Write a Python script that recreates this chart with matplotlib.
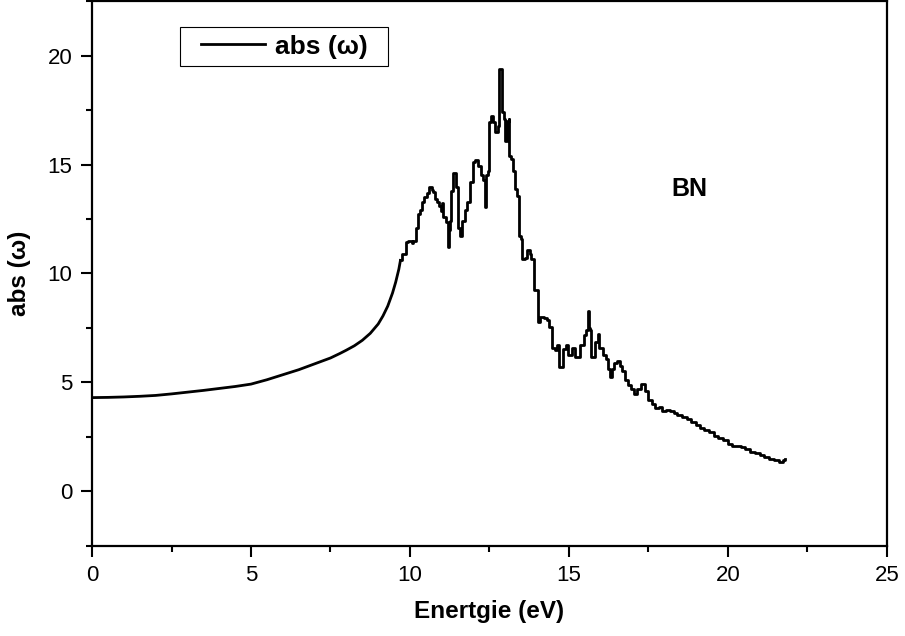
import numpy as np
import matplotlib.pyplot as plt
from matplotlib.ticker import MultipleLocator
from matplotlib.patches import Rectangle

plt.rcParams['font.family'] = ['Liberation Sans', 'DejaVu Sans']

# smooth low-energy part
e_smooth = [0.0, 0.5, 1.0, 1.5, 2.0, 2.5, 3.0, 3.5, 4.0, 4.5, 5.0, 5.5, 6.0, 6.5,
            7.0, 7.5, 7.8, 8.0, 8.25, 8.5, 8.75, 9.0, 9.15, 9.3, 9.45, 9.55, 9.65, 9.7]
a_smooth = [4.3, 4.31, 4.33, 4.36, 4.4, 4.47, 4.55, 4.63, 4.72, 4.81, 4.92, 5.12,
            5.35, 5.58, 5.85, 6.12, 6.33, 6.48, 6.68, 6.93, 7.25, 7.68, 8.05, 8.5,
            9.1, 9.6, 10.2, 10.6]

# noisy part (step values)
e_steps = [9.70, 9.74, 9.88, 9.94, 10.05, 10.10, 10.18, 10.25, 10.30, 10.38, 10.45,
           10.55, 10.60, 10.68, 10.72, 10.80, 10.85, 10.92, 10.96, 11.00, 11.04,
           11.12, 11.18, 11.22, 11.26, 11.30, 11.36, 11.44, 11.50, 11.57, 11.64,
           11.74, 11.80, 11.88, 11.97, 12.06, 12.14, 12.22, 12.30, 12.35, 12.40,
           12.44, 12.48, 12.55, 12.62, 12.68, 12.76, 12.80, 12.90, 12.96, 13.00,
           13.04, 13.10, 13.12, 13.18, 13.24, 13.30, 13.38, 13.44, 13.50, 13.53,
           13.62, 13.68, 13.76, 13.82, 13.90, 14.02, 14.10, 14.20, 14.30, 14.36,
           14.48, 14.56, 14.62, 14.70, 14.80, 14.90, 14.98, 15.10, 15.20, 15.35,
           15.48, 15.54, 15.60, 15.64, 15.67, 15.70, 15.82, 15.90, 15.96, 16.08,
           16.16, 16.22, 16.30, 16.36, 16.43, 16.52, 16.62, 16.68, 16.76, 16.85,
           16.95, 17.05, 17.15, 17.28, 17.40, 17.50, 17.60, 17.72, 17.82, 17.92,
           18.05, 18.18, 18.30, 18.40, 18.55, 18.70, 18.85, 19.00, 19.12, 19.25,
           19.40, 19.55, 19.70, 19.85, 20.00, 20.12, 20.25, 20.40, 20.55, 20.70,
           20.85, 21.00, 21.15, 21.30, 21.45, 21.60, 21.72, 21.80]
a_steps = [10.6, 10.9, 11.45, 11.5, 11.4, 11.5, 12.1, 12.74, 12.9, 13.27, 13.5,
           13.7, 13.96, 13.85, 13.73, 13.4, 13.27, 13.1, 12.89, 13.25, 12.6,
           12.35, 11.2, 12.0, 12.4, 13.8, 14.6, 13.96, 12.1, 11.74, 12.43,
           12.9, 13.27, 14.19, 15.1, 15.2, 14.95, 14.5, 14.3, 13.04, 14.5,
           14.72, 16.94, 17.25, 16.94, 16.48, 16.79, 19.4, 17.4, 17.1, 16.1,
           17.0, 17.1, 15.4, 15.27, 14.72, 13.9, 13.58, 11.7, 11.6, 10.65,
           10.7, 11.1, 10.9, 10.65, 9.22, 7.77, 8.0, 7.95, 7.85, 7.55,
           6.6, 6.5, 6.7, 5.7, 6.55, 6.7, 6.24, 6.6, 6.17, 6.7,
           7.16, 7.39, 8.3, 7.5, 7.39, 6.16, 6.85, 7.23, 6.6, 6.24,
           6.08, 5.63, 5.26, 5.63, 5.87, 5.96, 5.73, 5.5, 5.1, 4.9,
           4.71, 4.48, 4.71, 4.94, 4.6, 4.2, 4.02, 3.8, 3.86, 3.7,
           3.75, 3.68, 3.6, 3.5, 3.4, 3.3, 3.18, 3.02, 2.9, 2.8,
           2.7, 2.55, 2.45, 2.35, 2.15, 2.1, 2.08, 2.05, 1.95, 1.82,
           1.75, 1.65, 1.55, 1.5, 1.42, 1.36, 1.45, 1.48]

fig = plt.figure(figsize=(9.05, 6.36), dpi=100)
ax = fig.add_axes([0.1017, 0.142, 0.8783, 0.856])

ax.plot(e_smooth, a_smooth, color='black', lw=2.0, label='abs (ω)',
        solid_joinstyle='round')
ax.plot(e_steps, a_steps, color='black', lw=2.0, drawstyle='steps-post')

ax.set_xlim(0, 25)
ax.set_ylim(-2.5, 22.5)
ax.xaxis.set_major_locator(MultipleLocator(5))
ax.xaxis.set_minor_locator(MultipleLocator(2.5))
ax.yaxis.set_major_locator(MultipleLocator(5))
ax.yaxis.set_minor_locator(MultipleLocator(2.5))
ax.tick_params(which='major', direction='out', length=8, width=1.5, labelsize=16, pad=6)
ax.tick_params(which='minor', direction='out', length=4, width=1.5)
for s in ax.spines.values():
    s.set_linewidth(1.6)

ax.set_xlabel('Enertgie (eV)', fontsize=17.5, fontweight='bold', labelpad=10)
ax.set_ylabel('abs (ω)', fontsize=17.5, fontweight='bold', labelpad=12)

ax.text(18.8, 13.9, 'BN', fontsize=18, fontweight='bold', ha='center', va='center')

# legend box like the original
ax.add_patch(Rectangle((0.1107, 0.8807), 0.2616, 0.0716, transform=ax.transAxes,
                       fill=False, edgecolor='black', lw=0.8))
ax.legend(loc='center left', bbox_to_anchor=(0.137, 0.9165), frameon=False,
          borderpad=0, borderaxespad=0, handlelength=2.42, handletextpad=0.38,
          prop={'weight': 'bold', 'size': 19})

fig.savefig('out.png', dpi=100)
